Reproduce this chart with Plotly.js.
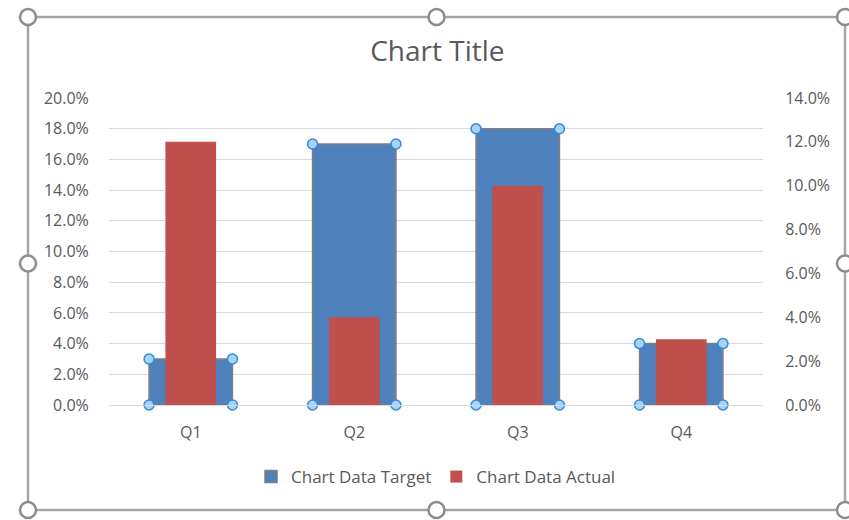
<!DOCTYPE html>
<html>
<head>
<meta charset="utf-8">
<script src="https://cdn.plot.ly/plotly-3.0.1.min.js"></script>
<style>html,body{margin:0;padding:0;background:#fff;}#chart{width:849px;height:520px;}</style>
</head>
<body>
<div id="chart"></div>
<script>
const categories = ["Q1", "Q2", "Q3", "Q4"];
const targetValues = [0.03, 0.17, 0.18, 0.04];
const actualValues = [0.12, 0.04, 0.10, 0.03];
const leftTicks = [0, 0.02, 0.04, 0.06, 0.08, 0.10, 0.12, 0.14, 0.16, 0.18, 0.20];
const rightTicks = [0, 0.02, 0.04, 0.06, 0.08, 0.10, 0.12, 0.14];

const idx = categories.map((c, i) => i);
const blueW = 0.51, redW = 0.31;
const fontFam = "'Segoe UI', 'Open Sans', 'Noto Sans', sans-serif";
const grey = "#595959";

// selection handles at corners of the target bars (derived from data)
const hx = [], hy = [];
idx.forEach(i => {
  [-blueW/2, blueW/2].forEach(d => { hx.push(i + d); hy.push(0); hx.push(i + d); hy.push(targetValues[i]); });
});

const traces = [
  {type: "bar", name: "Chart Data Target", x: idx, y: targetValues, width: blueW,
   marker: {color: "#4F81BD", line: {color: "#7F7F7F", width: 1.5}}, yaxis: "y", hoverinfo: "skip"},
  {type: "scatter", mode: "markers", x: hx, y: hy, showlegend: false, hoverinfo: "skip", yaxis: "y",
   cliponaxis: false,
   marker: {symbol: "circle", size: 10, color: "#A9D2F3", line: {color: "#2E8BE0", width: 1.5}}},
  {type: "bar", name: "Chart Data Actual", x: idx, y: actualValues, width: redW,
   marker: {color: "#C0504D"}, yaxis: "y2", hoverinfo: "skip"}
];

function px2x(p) { return (p - 109) / 654; }
function px2y(p) { return (405 - p) / 307; }
const frameL = px2x(28), frameR = px2x(845), frameT = px2y(17), frameB = px2y(510);
const shapes = [{type: "rect", xref: "paper", yref: "paper", x0: frameL, x1: frameR, y0: frameB, y1: frameT,
  line: {color: "#A6A6A6", width: 2.5}, fillcolor: "rgba(0,0,0,0)"}];
const hxs = [frameL, (frameL + frameR) / 2, frameR];
const hys = [frameB, (frameB + frameT) / 2, frameT];
hxs.forEach((cx, a) => hys.forEach((cy, b) => {
  if (a === 1 && b === 1) return;
  shapes.push({type: "circle", xref: "paper", yref: "paper", xsizemode: "pixel", ysizemode: "pixel",
    xanchor: cx, yanchor: cy, x0: -8, x1: 8, y0: -8, y1: 8,
    line: {color: "#8C8C8C", width: 2.5}, fillcolor: "#FFFFFF"});
}));

const layout = {
  width: 849, height: 520,
  margin: {l: 109, r: 86, t: 98, b: 115},
  paper_bgcolor: "#FFFFFF", plot_bgcolor: "#FFFFFF",
  font: {family: fontFam, color: grey, size: 16},
  title: {text: "Chart Title", x: 0.502, xref: "paper", y: 1 - 51 / 520, yref: "container", yanchor: "middle",
          font: {size: 28, color: grey, family: fontFam}},
  barmode: "overlay",
  showlegend: true,
  legend: {orientation: "h", x: 0.5, xanchor: "center", y: -0.2345, yanchor: "middle",
           font: {size: 17, color: grey}, itemwidth: 30, traceorder: "normal"},
  xaxis: {type: "linear", range: [-0.5, 3.5], tickvals: idx, ticktext: categories,
          showgrid: false, zeroline: false, showline: true, linecolor: "#D9D9D9", linewidth: 1,
          ticks: "outside", ticklen: 13, tickcolor: "rgba(0,0,0,0)", tickfont: {size: 16, color: grey}},
  yaxis: {range: [0, 0.2], tickvals: leftTicks, tickformat: ".1%", showgrid: true, gridcolor: "#D9D9D9",
          gridwidth: 1, zeroline: false, showline: false, ticks: "outside", ticklen: 16,
          tickcolor: "rgba(0,0,0,0)", tickfont: {size: 16, color: grey}},
  yaxis2: {range: [0, 0.14], tickvals: rightTicks, tickformat: ".1%", overlaying: "y", side: "right",
           showgrid: false, zeroline: false, showline: false, ticks: "outside", ticklen: 18,
           tickcolor: "rgba(0,0,0,0)", tickfont: {size: 16, color: grey}},
  shapes: shapes
};

Plotly.newPlot("chart", traces, layout, {displayModeBar: false, staticPlot: true});
</script>
</body>
</html>
